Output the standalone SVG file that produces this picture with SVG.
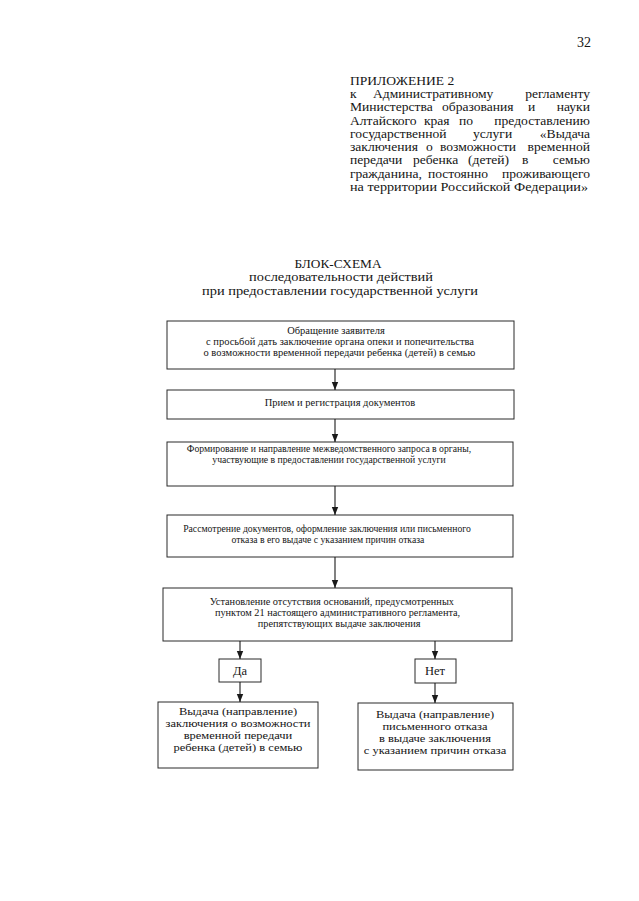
<svg xmlns="http://www.w3.org/2000/svg" width="639" height="901" viewBox="0 0 639 901">
<style>
text{font-family:"Liberation Serif","Times New Roman",serif;fill:#151515}
.h{font-size:11.9px}
.t{font-size:12.4px}
.b{font-size:10px;text-anchor:middle}
.s{font-size:9.7px;text-anchor:middle}
.c{font-size:10.8px;text-anchor:middle}
.d{font-size:12.5px;text-anchor:middle}
.e{text-anchor:end}
rect{fill:none;stroke:#2a2a2a;stroke-width:1}
.con line{stroke:#1a1a1a;stroke-width:1.1}
</style>
<defs>
<marker id="ah" viewBox="0 0 8 8" refX="8" refY="4" markerWidth="8" markerHeight="8" markerUnits="userSpaceOnUse" orient="auto">
<path d="M0,0.8 L8,4 L0,7.2 Z" fill="#1a1a1a"/>
</marker>
</defs>
<rect x="0" y="0" width="639" height="901" style="fill:#ffffff;stroke:none"/>
<g id="page-number">
<text x="591" y="47" text-anchor="end" style="font-size:14px">32</text>
</g>
<g id="header" transform="translate(350,0) scale(1.14,1) translate(-350,0)">
<text class="h" x="350" y="85">ПРИЛОЖЕНИЕ 2</text>
<text class="h" x="350" y="98.25">к</text>
<text class="h" x="370.2" y="98.25">Административному</text>
<text class="h e" x="560.5" y="98.25">регламенту</text>
<text class="h" x="350" y="111.5">Министерства</text>
<text class="h" x="430.7" y="111.5">образования</text>
<text class="h" x="506.1" y="111.5">и</text>
<text class="h e" x="560.5" y="111.5">науки</text>
<text class="h" x="350" y="124.75">Алтайского</text>
<text class="h" x="414.9" y="124.75">края</text>
<text class="h" x="445.6" y="124.75">по</text>
<text class="h e" x="560.5" y="124.75">предоставлению</text>
<text class="h" x="350" y="138">государственной</text>
<text class="h" x="457.9" y="138">услуги</text>
<text class="h e" x="560.5" y="138">«Выдача</text>
<text class="h" x="350" y="151.25">заключения</text>
<text class="h" x="416.7" y="151.25">о</text>
<text class="h" x="428.9" y="151.25">возможности</text>
<text class="h e" x="560.5" y="151.25">временной</text>
<text class="h" x="350" y="164.5">передачи</text>
<text class="h" x="405.3" y="164.5">ребенка</text>
<text class="h" x="453.5" y="164.5">(детей)</text>
<text class="h" x="500.9" y="164.5">в</text>
<text class="h e" x="560.5" y="164.5">семью</text>
<text class="h" x="350" y="177.75">гражданина,</text>
<text class="h" x="418.4" y="177.75">постоянно</text>
<text class="h e" x="560.5" y="177.75">проживающего</text>
<text class="h" x="350" y="191" textLength="208.8" lengthAdjust="spacingAndGlyphs">на территории Российской Федерации»</text>
</g>
<g id="title">
<text class="t" x="294.5" y="267.5" textLength="87" lengthAdjust="spacingAndGlyphs">БЛОК-СХЕМА</text>
<text class="t" x="249" y="281.25" textLength="184" lengthAdjust="spacingAndGlyphs">последовательности действий</text>
<text class="t" x="202" y="295" textLength="276" lengthAdjust="spacingAndGlyphs">при предоставлении государственной услуги</text>
</g>
<g id="n1">
<rect x="167" y="321" width="347" height="48"/>
<g transform="translate(340,0) scale(1.05,1) translate(-340,0)">
<text class="b" x="336.2" y="334">Обращение заявителя</text>
<text class="b" x="340" y="345">с просьбой дать заключение органа опеки и попечительства</text>
<text class="b" x="339.5" y="356">о возможности временной передачи ребенка (детей) в семью</text>
</g>
</g>
<g id="n2">
<rect x="167" y="390" width="347" height="29"/>
<g transform="translate(340,0) scale(1.05,1) translate(-340,0)">
<text class="b" x="340" y="406">Прием и регистрация документов</text>
</g>
</g>
<g id="n3">
<rect x="167" y="442" width="346" height="44"/>
<text class="s" x="329" y="452">Формирование и направление межведомственного запроса в органы,</text>
<text class="s" x="329" y="463">участвующие в предоставлении государственной услуги</text>
</g>
<g id="n4">
<rect x="167" y="515" width="346" height="42"/>
<text class="s" x="327" y="532">Рассмотрение документов, оформление заключения или письменного</text>
<text class="s" x="328" y="543">отказа в его выдаче с указанием причин отказа</text>
</g>
<g id="n5">
<rect x="163" y="588" width="349" height="53"/>
<g transform="translate(336,0) scale(1.03,1) translate(-336,0)">
<text class="b" x="332" y="605">Установление отсутствия оснований, предусмотренных</text>
<text class="b" x="337.5" y="616">пунктом 21 настоящего административного регламента,</text>
<text class="b" x="339" y="627">препятствующих выдаче заключения</text>
</g>
</g>
<g id="n6">
<rect x="219" y="659" width="42" height="23"/>
<text class="d" x="240" y="675">Да</text>
</g>
<g id="n7">
<rect x="415" y="659" width="41" height="24"/>
<text class="d" x="435" y="675">Нет</text>
</g>
<g id="n8">
<rect x="158" y="702" width="160" height="66"/>
<g transform="translate(238,0) scale(1.157,1) translate(-238,0)">
<text class="c" x="238" y="715">Выдача (направление)</text>
<text class="c" x="238" y="727">заключения о возможности</text>
<text class="c" x="238" y="739">временной передачи</text>
<text class="c" x="238" y="751">ребенка (детей) в семью</text>
</g>
</g>
<g id="n9">
<rect x="358" y="703" width="155" height="67"/>
<g transform="translate(435,0) scale(1.157,1) translate(-435,0)">
<text class="c" x="435" y="718">Выдача (направление)</text>
<text class="c" x="435" y="730">письменного отказа</text>
<text class="c" x="435" y="742">в выдаче заключения</text>
<text class="c" x="435" y="754">с указанием причин отказа</text>
</g>
</g>
<g id="connectors" class="con">
<line x1="335" y1="369" x2="335" y2="390" marker-end="url(#ah)"/>
<line x1="335" y1="419" x2="335" y2="442" marker-end="url(#ah)"/>
<line x1="335" y1="486" x2="335" y2="515" marker-end="url(#ah)"/>
<line x1="335" y1="557" x2="335" y2="588" marker-end="url(#ah)"/>
<line x1="240" y1="641" x2="240" y2="659" marker-end="url(#ah)"/>
<line x1="240" y1="682" x2="240" y2="702" marker-end="url(#ah)"/>
<line x1="435" y1="641" x2="435" y2="659" marker-end="url(#ah)"/>
<line x1="435" y1="683" x2="435" y2="703" marker-end="url(#ah)"/>
</g>
</svg>
